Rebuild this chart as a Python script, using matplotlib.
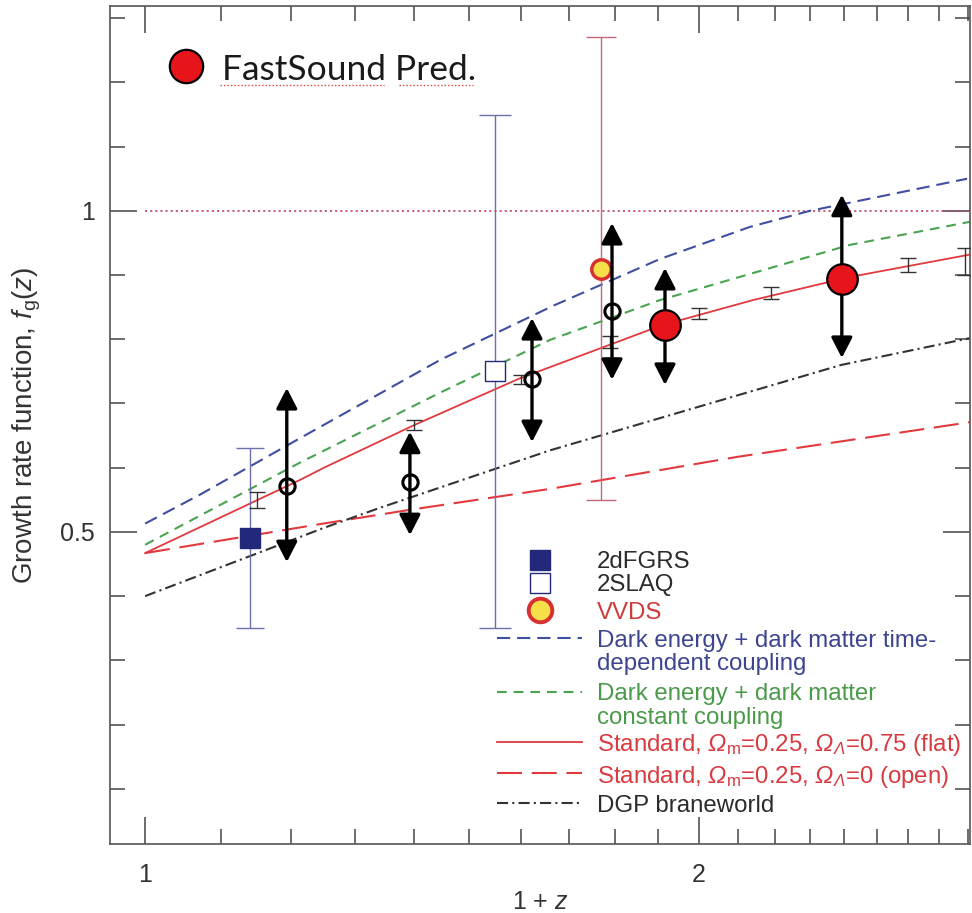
import matplotlib
matplotlib.use('Agg')
from matplotlib import pyplot as plt
from matplotlib.ticker import FixedLocator, FixedFormatter, NullFormatter

plt.rcParams['font.family'] = ['Liberation Sans', 'DejaVu Sans']
plt.rcParams['mathtext.fontset'] = 'custom'
plt.rcParams['mathtext.rm'] = 'Liberation Sans'
plt.rcParams['mathtext.it'] = 'Liberation Sans:italic'
# slanted capital Greek (the 'it' font sends them upright)
plt.rcParams['mathtext.sf'] = 'Liberation Sans:italic'
plt.rcParams['lines.scale_dashes'] = False

# theory curves, x = 1 + z
tdc_x = [1.0, 1.071, 1.214, 1.447, 1.666, 1.905, 2.132, 2.298, 2.798]
tdc_y = [0.513, 0.558, 0.646, 0.768, 0.852, 0.925, 0.975, 1.000, 1.050]
cc_x = [1.0, 1.214, 1.447, 1.660, 1.905, 2.416, 2.809]
cc_y = [0.480, 0.608, 0.717, 0.799, 0.861, 0.947, 0.983]
flat_x = [1.0, 1.214, 1.253, 1.402, 1.595, 1.910, 2.140, 2.416, 2.809]
flat_y = [0.467, 0.581, 0.601, 0.667, 0.738, 0.822, 0.861, 0.897, 0.932]
open_x = [1.0, 1.25, 1.39, 1.66, 2.10, 2.81]
open_y = [0.467, 0.513, 0.534, 0.567, 0.617, 0.671]
dgp_x = [1.0, 1.25, 1.34, 1.66, 2.39, 2.81]
dgp_y = [0.400, 0.506, 0.537, 0.627, 0.760, 0.802]

# measurements
survey_names = ['2dFGRS', '2SLAQ', 'VVDS']
survey_x = [1.14, 1.55, 1.77]
survey_y = [0.49, 0.75, 0.91]
survey_err = [0.14, 0.40, 0.36]

# small forecast error bars along the standard curve
fc_x = [1.15, 1.40, 1.60, 1.79, 2.00, 2.19, 2.60, 2.79]
fc_y = [0.550, 0.667, 0.738, 0.796, 0.840, 0.872, 0.916, 0.921]
fc_err = [0.012, 0.008, 0.007, 0.009, 0.008, 0.009, 0.011, 0.021]

# open circles with arrows
arr_x = [1.194, 1.393, 1.623, 1.794]
arr_y = [0.572, 0.578, 0.738, 0.844]
arr_lo = [0.453, 0.495, 0.640, 0.737]
arr_hi = [0.724, 0.656, 0.833, 0.981]

# FastSound predictions
fs_x = [1.917, 2.392]
fs_y = [0.822, 0.894]
fs_lo = [0.729, 0.771]
fs_hi = [0.911, 1.025]

x_major = [1, 2]
x_minor = [1.1, 1.2, 1.3, 1.4, 1.5, 1.6, 1.7, 1.8, 1.9,
           2.1, 2.2, 2.3, 2.4, 2.5, 2.6, 2.7, 2.8]
y_major = [0.5, 1.0]
y_minor = [0.1, 0.2, 0.3, 0.4, 0.6, 0.7, 0.8, 0.9, 1.1, 1.2, 1.3]

blue = '#3f4ea0'
green = '#4aa350'
red = '#e2393f'
dgp_col = '#333333'
navy = '#23287a'

fig = plt.figure(figsize=(9.72, 9.13), dpi=100)
ax = fig.add_axes([0.1132, 0.0756, 0.8848, 0.9178])

ax.plot([x_major[0], 2.81], [1, 1], color='#c04060', lw=1.2, dashes=(1.5, 2.2))

ax.plot(tdc_x, tdc_y, color=blue, lw=1.5, dashes=(9.5, 5))
ax.plot(cc_x, cc_y, color=green, lw=1.5, dashes=(7, 5))
ax.plot(flat_x, flat_y, color=red, lw=1.3)
ax.plot(open_x, open_y, color=red, lw=1.5, dashes=(18, 7))
ax.plot(dgp_x, dgp_y, color=dgp_col, lw=1.5, dashes=(8, 3, 1.5, 3))

# survey points
bar_cols = ['#6a70aa', '#6a70aa', '#c06a78']
caps = [10, 11.5, 11]
for i in range(3):
    ax.errorbar(survey_x[i], survey_y[i], yerr=survey_err[i], fmt='none',
                ecolor=bar_cols[i], elinewidth=1.0, capsize=caps[i], capthick=1.0, zorder=2)
ax.plot(survey_x[0], survey_y[0], 's', ms=14, mfc=navy, mec=navy, zorder=5)
ax.plot(survey_x[1], survey_y[1], 's', ms=14, mfc='white', mec=navy, mew=1.0, zorder=5)
ax.plot(survey_x[2], survey_y[2], 'o', ms=14, mfc='#f5e04a', mec='#d83030', mew=2.5, zorder=5)

ax.errorbar(fc_x, fc_y, yerr=fc_err, fmt='none', ecolor='#333333',
            elinewidth=1.0, capsize=6, capthick=1.0, zorder=3)

arrow_style = '<|-|>,head_length=0.62,head_width=0.32'
for x, lo, hi in zip(arr_x + fs_x, arr_lo + fs_lo, arr_hi + fs_hi):
    ax.annotate('', xy=(x, hi), xytext=(x, lo),
                arrowprops=dict(arrowstyle=arrow_style, mutation_scale=20, lw=2.4,
                                color='black', shrinkA=0, shrinkB=0), zorder=6)
ax.plot(arr_x, arr_y, 'o', ms=11, mfc='none', mec='black', mew=2.2, zorder=7)
ax.plot(fs_x, fs_y, 'o', ms=22, mfc='#e8141c', mec='black', mew=1.6, zorder=8)

# FastSound key at top left
ax.plot([0.0884], [0.928], 'o', ms=24, mfc='#e8141c', mec='black', mew=1.6,
        transform=ax.transAxes, clip_on=False)
ax.text(0.130, 0.912, 'FastSound Pred.', transform=ax.transAxes, fontsize=25.5,
        family='Lato', color='#1a1a1a', va='baseline')
ax.plot([0.128, 0.318], [0.906, 0.906], color='#e04040', lw=1.0, dashes=(1, 1.5),
        transform=ax.transAxes)
ax.plot([0.336, 0.422], [0.906, 0.906], color='#e04040', lw=1.0, dashes=(1, 1.5),
        transform=ax.transAxes)

# legend, laid out by hand
key_x0, key_x1, key_xc, text_x = 0.450, 0.549, 0.5, 0.5663
std_flat = r'Standard, $\mathsf{Ω}_\mathrm{m}$=0.25, $\mathsf{Ω}_\mathsf{Λ}$=0.75 (flat)'
std_open = r'Standard, $\mathsf{Ω}_\mathrm{m}$=0.25, $\mathsf{Ω}_\mathsf{Λ}$=0 (open)'
legend_rows = [
    (dict(marker='s', ms=14, mfc=navy, mec=navy, ls='none'), ['2dFGRS'], '#2b2b2b', [0.3389]),
    (dict(marker='s', ms=14, mfc='white', mec=navy, mew=1.0, ls='none'), ['2SLAQ'], '#2b2b2b', [0.3115]),
    (dict(marker='o', ms=17, mfc='#f5e04a', mec='#d83030', mew=2.8, ls='none'), ['VVDS'], '#d03a3a', [0.2792]),
    (dict(color=blue, lw=1.5, dashes=(9.5, 5)),
     ['Dark energy + dark matter time-', 'dependent coupling'], '#3d4590', [0.2458, 0.2172]),
    (dict(color=green, lw=1.5, dashes=(7, 5)),
     ['Dark energy + dark matter', 'constant coupling'], '#4a9a4a', [0.1814, 0.1539]),
    (dict(color=red, lw=1.3), [std_flat], '#d83a40', [0.1217]),
    (dict(color=red, lw=1.5, dashes=(18, 7)), [std_open], '#d83a40', [0.0847]),
    (dict(color=dgp_col, lw=1.5, dashes=(8, 3, 1.5, 3)), ['DGP braneworld'], '#2b2b2b', [0.0489]),
]
for style, lines, tcol, ys in legend_rows:
    if 'marker' in style:
        ax.plot([key_xc], [ys[0]], transform=ax.transAxes, **style)
    else:
        ax.plot([key_x0, key_x1], [ys[0], ys[0]], transform=ax.transAxes, **style)
    for txt, y in zip(lines, ys):
        ax.text(text_x, y, txt, transform=ax.transAxes, fontsize=17.3, color=tcol,
                va='center_baseline', ha='left')

ax.set_xscale('log')
ax.set_xlim(0.957, 2.8085)
ax.set_ylim(0.014, 1.319)
ax.xaxis.set_major_locator(FixedLocator(x_major))
ax.xaxis.set_major_formatter(FixedFormatter(['1', '2']))
ax.xaxis.set_minor_locator(FixedLocator(x_minor))
ax.xaxis.set_minor_formatter(NullFormatter())
ax.yaxis.set_major_locator(FixedLocator(y_major))
ax.yaxis.set_major_formatter(FixedFormatter(['0.5', '1']))
ax.yaxis.set_minor_locator(FixedLocator(y_minor))
ax.yaxis.set_minor_formatter(NullFormatter())

ax.tick_params(which='both', direction='in', top=True, right=True, color='#444444',
               width=1.1, labelsize=18, labelcolor='#333333')
ax.tick_params(which='major', length=19.5)
ax.tick_params(which='minor', length=10.5)
ax.tick_params(axis='x', pad=14)
ax.tick_params(axis='y', pad=11)
for s in ax.spines.values():
    s.set_color('#555555')
    s.set_linewidth(1.2)

ax.set_xlabel('1 + $z$', fontsize=18, color='#333333', labelpad=2)
ax.set_ylabel(r'Growth rate function, $f_\mathrm{g}(z)$', fontsize=20, color='#333333',
              labelpad=12)

fig.savefig('out.png', dpi=100)
